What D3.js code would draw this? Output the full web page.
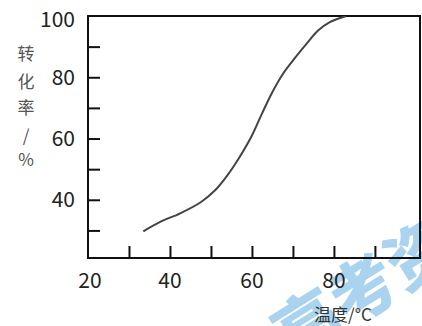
<!DOCTYPE html>
<html>
<head>
<meta charset="utf-8">
<script src="https://cdn.jsdelivr.net/npm/d3@7"></script>
<style>
  body { margin: 0; background: #fff; }
  svg { display: block; }
  text { font-family: "Noto Sans CJK SC", "Noto Sans", sans-serif; }
</style>
</head>
<body>
<svg width="422" height="326"></svg>
<script>
// temperature (°C) and conversion (%)
const temps = [33.5, 37.5, 42.5, 47.5, 51, 54, 57, 60, 62.5, 65, 67.5, 70.5, 73.5, 76, 79, 83];
const conv  = [29.7, 32.7, 35.6, 39.2, 43.1, 48, 54, 61, 68.3, 75.2, 81, 86.3, 91.2, 95.1, 98, 100];

const xTicks = [30, 40, 50, 60, 70, 80, 90];
const yTicks = [30, 40, 50, 60, 70, 80, 90];
const xLabels = [20, 40, 60, 80];
const yLabels = [40, 60, 80, 100];
const yTitle = ["转", "化", "率", "/", "%"];
const xTitle = "温度/°C";

const svg = d3.select("svg");

const x = d3.scaleLinear().domain([20, 101]).range([88, 420]);
const y = d3.scaleLinear().domain([21, 100]).range([258, 16]);

// watermark behind everything
svg.append("text")
    .attr("transform", "translate(292,362) rotate(-32)")
    .attr("font-size", 66)
    .attr("font-weight", 900)
    .attr("fill", "#a9d3ef")
    .text("高考资源");

// inward ticks
svg.append("g")
    .attr("transform", `translate(0,${y.range()[0]})`)
    .call(d3.axisBottom(x).tickValues(xTicks).tickSize(-12).tickFormat(""))
    .call(g => g.select(".domain").remove())
    .selectAll("line").attr("stroke", "#111").attr("stroke-width", 2);

svg.append("g")
    .attr("transform", `translate(${x.range()[0]},0)`)
    .call(d3.axisLeft(y).tickValues(yTicks).tickSize(-12).tickFormat(""))
    .call(g => g.select(".domain").remove())
    .selectAll("line").attr("stroke", "#111").attr("stroke-width", 2);

// frame
svg.append("rect")
    .attr("x", x.range()[0])
    .attr("y", y.range()[1])
    .attr("width", x.range()[1] - x.range()[0])
    .attr("height", y.range()[0] - y.range()[1])
    .attr("fill", "none")
    .attr("stroke", "#111")
    .attr("stroke-width", 2);

// tick labels
svg.selectAll(".xl")
    .data(xLabels)
    .enter().append("text")
    .attr("x", d => x(d) + (d == 20 ? 2 : 0))
    .attr("y", 281)
    .attr("dy", "0.35em")
    .attr("text-anchor", "middle")
    .attr("font-size", 21)
    .attr("fill", "#222")
    .text(d => d);

svg.selectAll(".yl")
    .data(yLabels)
    .enter().append("text")
    .attr("x", 75)
    .attr("y", d => y(d) + (d == 100 ? 4 : 0))
    .attr("dy", "0.35em")
    .attr("text-anchor", "end")
    .attr("font-size", 21)
    .attr("fill", "#222")
    .text(d => d);

// axis titles
svg.selectAll(".yt")
    .data(yTitle)
    .enter().append("text")
    .attr("x", 26)
    .attr("y", (d, i) => [54, 82, 108, 136, 160][i])
    .attr("dy", "0.35em")
    .attr("text-anchor", "middle")
    .attr("font-size", 17)
    .attr("fill", "#555")
    .text(d => d);

svg.append("text")
    .attr("x", 343)
    .attr("y", 315)
    .attr("dy", "0.35em")
    .attr("text-anchor", "middle")
    .attr("font-size", 17)
    .attr("fill", "#333")
    .text(xTitle);

// curve
const pts = temps.map((t, i) => [t, conv[i]]);
const line = d3.line()
    .x(d => x(d[0]))
    .y(d => y(d[1]))
    .curve(d3.curveCatmullRom);

svg.append("path")
    .attr("d", line(pts))
    .attr("fill", "none")
    .attr("stroke", "#444")
    .attr("stroke-width", 2);
</script>
</body>
</html>
